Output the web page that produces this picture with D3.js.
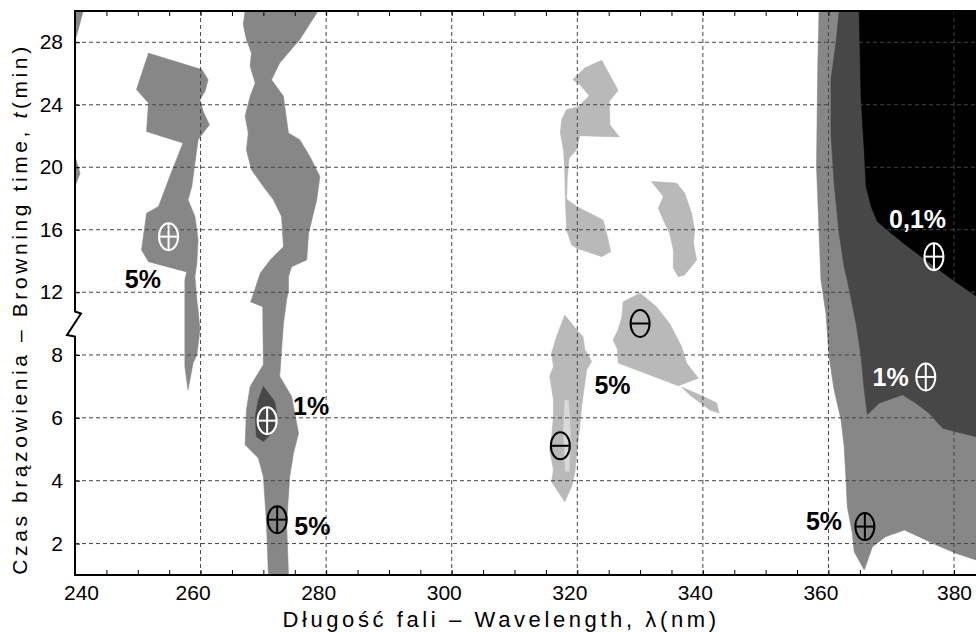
<!DOCTYPE html>
<html>
<head>
<meta charset="utf-8">
<script src="https://cdn.jsdelivr.net/npm/d3@7"></script>
<style>
  body { margin: 0; background: #fff; }
  svg { display: block; }
</style>
</head>
<body>
<svg id="chart" width="976" height="632"></svg>
<script>
// ---- axis values ----
const wavelengthTicks = [240, 260, 280, 300, 320, 340, 360, 380];
const wavelengthMinorStep = 5;
const timeTicks = [2, 4, 6, 8, 12, 16, 20, 24, 28];

// ---- significance regions: [wavelength (nm), browning time (min)] ----
// positive correlation, p < 5 %
const posEdgeTop = [[240, 30], [241.3, 30], [240.3, 28.5], [240, 28.2]];
const posEdgeMid = [[240, 20.7], [240.8, 19.6], [240, 18.8]];
const pos255 = [
  [251.7, 27.3], [260.2, 26.25], [261.2, 25.6], [260.7, 24.86], [259.9, 24.33], [260.4, 23.58],
  [261.4, 22.72], [260.4, 22.19], [259.6, 21.76], [258.6, 18.77], [258.0, 17.92], [259.1, 16.85],
  [259.6, 15.35], [259.4, 13.86], [259.1, 13.0], [259.4, 11.5], [259.6, 10.87], [259.9, 8.8],
  [259.4, 8.0], [258.8, 7.74], [258.0, 6.89], [257.5, 7.63], [257.5, 8.48], [257.5, 12.15],
  [257.5, 12.8], [257.8, 13.3], [251.7, 13.96], [250.6, 14.71], [251.4, 17.06], [253.3, 17.49],
  [255.1, 19.41], [257.2, 21.55], [251.4, 22.29], [251.7, 24.12], [249.8, 24.97]
];
const pos270 = [
  [267.1, 30], [266.8, 29.13], [267.3, 28.17], [268.1, 27.32], [267.9, 26.46], [268.7, 25.4],
  [267.9, 24.54], [267.1, 23.26], [267.6, 22.19], [267.3, 21.12], [268.1, 19.84], [270.0, 18.77],
  [271.6, 17.92], [272.9, 16.85], [273.2, 14.92], [271.1, 14.07], [269.5, 13.22], [268.1, 11.5],
  [267.9, 11.4], [269.9, 11.08], [270.0, 7.69], [267.9, 7.0], [267.3, 6.25], [267.1, 5.14],
  [269.2, 4.72], [270.0, 4.13], [270.5, 2.65], [270.8, 1], [274.0, 1], [273.7, 2.65],
  [274.2, 4.13], [274.8, 4.88], [275.6, 5.51], [274.5, 6.68], [272.6, 7.32], [273.2, 9.5],
  [273.7, 11.5], [274.0, 12.15], [274.0, 13.0], [274.5, 13.64], [276.9, 14.07], [277.2, 15.78],
  [278.5, 17.92], [279.0, 19.41], [277.4, 20.69], [275.8, 21.76], [274.0, 22.19], [273.4, 23.9],
  [273.2, 24.54], [271.3, 25.6], [272.6, 26.68], [275.8, 28.17], [278.7, 30]
];
const pos365 = [
  [358.5, 30], [358.3, 26.46], [358.1, 20.05], [358.8, 12.79], [359.6, 10.65], [360.1, 7.95],
  [360.9, 6.89], [362.0, 5.94], [362.5, 5.09], [362.8, 4.03], [363.0, 3.18], [363.8, 2.33],
  [364.1, 1.74], [365.7, 1.16], [367.0, 1.9], [369.1, 2.22], [372.1, 2.43], [374.4, 2.22],
  [377.1, 1.96], [380.3, 1.69], [383.5, 1.48], [383.5, 30]
];
// positive correlation, p < 1 %
const pos270Core = [
  [270.0, 7.0], [271.8, 6.52], [272.2, 6.04], [271.6, 5.56], [270.0, 5.25], [268.9, 5.4],
  [268.7, 6.04], [269.2, 6.57]
];
const pos370 = [
  [361.7, 30], [361.2, 27.96], [360.4, 25.61], [360.4, 22.19], [360.9, 18.99], [361.7, 15.78],
  [362.5, 13.64], [363.0, 12.79], [364.4, 9.5], [365.2, 7.95], [365.7, 6.89], [366.2, 6.1],
  [368.1, 6.47], [371.8, 6.73], [373.9, 6.47], [376.0, 6.15], [378.2, 5.67], [380.3, 5.56],
  [383.5, 5.4], [383.5, 30]
];
// positive correlation, p < 0.1 %
const pos375 = [
  [364.9, 30], [365.2, 24.33], [365.7, 21.12], [366.0, 18.77], [366.8, 17.49], [367.8, 16.53],
  [369.7, 15.88], [372.3, 15.03], [375.5, 14.07], [379.8, 12.79], [383.5, 11.76], [383.5, 30]
];
// negative correlation, p < 5 %
const neg320Upper = [
  [323.9, 26.85], [326.5, 24.92], [325.1, 24.22], [325.2, 22.72], [326.7, 21.94], [320.4, 22.02],
  [319.9, 21.12], [318.7, 20.59], [318.4, 19.41], [318.3, 17.96], [319.9, 17.49], [324.1, 16.63],
  [324.8, 15.56], [325.3, 14.6], [323.9, 14.28], [319.9, 14.82], [319.1, 15.03], [318.3, 15.99],
  [318.1, 17.92], [318.0, 19.84], [317.8, 21.12], [317.3, 22.19], [317.5, 23.04], [318.3, 23.69],
  [320.1, 23.86], [321.9, 24.58], [320.4, 25.29], [319.3, 25.61], [321.2, 26.36]
];
const neg336 = [
  [331.8, 19.09], [335.8, 18.99], [337.1, 18.35], [338.2, 17.06], [338.7, 15.99], [338.5, 15.14],
  [339.0, 14.07], [337.1, 13.11], [336.1, 13.0], [335.3, 13.54], [335.3, 14.71], [334.7, 15.78],
  [333.7, 16.63], [332.9, 17.38], [333.7, 18.13]
];
const neg330 = [
  [330.0, 11.94], [332.6, 11.08], [334.7, 9.5], [336.6, 8.27], [337.4, 7.74], [339.3, 7.26],
  [336.1, 7.02], [326.5, 7.74], [326.4, 8.17], [325.7, 8.48], [326.5, 8.8], [327.1, 10.44],
  [327.3, 11.4]
];
const neg340Tail = [
  [336.6, 6.98], [340.6, 6.63], [342.2, 6.47], [342.6, 6.15], [341.1, 6.25], [337.9, 6.73]
];
const neg318 = [
  [318.0, 10.54], [319.9, 8.8], [320.9, 8.59], [321.2, 8.17], [322.3, 7.79], [321.5, 7.53],
  [321.2, 7.11], [320.9, 6.68], [320.7, 6.36], [320.4, 5.72], [320.1, 5.19], [319.8, 4.66],
  [319.6, 4.24], [319.1, 3.81], [318.0, 3.33], [315.9, 3.97], [316.2, 4.34], [315.6, 4.98],
  [315.9, 5.4], [316.2, 6.04], [316.2, 6.57], [315.6, 7.32], [316.2, 7.63], [315.9, 8.06],
  [316.7, 8.59]
];
const neg318Core = [
  [318.0, 6.55], [318.6, 6.55], [318.9, 5.5], [318.7, 4.3], [318.1, 4.3], [317.8, 5.5]
];

// correlation sign markers and level labels
const markers = [
  { nm: 254.9, t: 15.56, sign: "+", ink: "#fff" },
  { nm: 270.6, t: 5.91, sign: "+", ink: "#fff" },
  { nm: 272.2, t: 2.76, sign: "+", ink: "#000" },
  { nm: 330.0, t: 9.5, sign: "-", ink: "#000" },
  { nm: 317.3, t: 5.11, sign: "-", ink: "#000" },
  { nm: 365.8, t: 2.54, sign: "+", ink: "#000" },
  { nm: 375.5, t: 7.3, sign: "+", ink: "#fff" },
  { nm: 376.8, t: 14.28, sign: "+", ink: "#fff" }
];
const levelLabels = [
  { text: "5%", nm: 250.8, t: 12.87, ink: "#000" },
  { text: "1%", nm: 277.6, t: 6.36, ink: "#000" },
  { text: "5%", nm: 277.8, t: 2.57, ink: "#000" },
  { text: "5%", nm: 325.6, t: 7.05, ink: "#000" },
  { text: "5%", nm: 359.3, t: 2.72, ink: "#000" },
  { text: "1%", nm: 369.9, t: 7.3, ink: "#fff" },
  { text: "0,1%", nm: 374.2, t: 16.7, ink: "#fff" }
];

// ---- styling ----
const fills = { neg5: "#b9b9b9", negCore: "#d9d9d9", pos5: "#878787", pos1: "#474747", pos01: "#000" };
const layers = [
  [posEdgeTop, "pos5"], [posEdgeMid, "pos5"], [pos255, "pos5"], [pos270, "pos5"], [pos270Core, "pos1"],
  [neg320Upper, "neg5"], [neg336, "neg5"], [neg330, "neg5"], [neg340Tail, "neg5"], [neg318, "neg5"],
  [neg318Core, "negCore"], [pos365, "pos5"], [pos370, "pos1"], [pos375, "pos01"]
];
const FONT = "'Liberation Sans', Arial, sans-serif";

// ---- scales ----
const x = d3.scaleLinear().domain([240, 383.5]).range([75, 976]);
// broken time axis: 1–9 min on the lower part, 10–30 min compressed above
const y = d3.scaleLinear().domain([1, 9, 10, 30]).range([575, 323.5, 323.5, 11]);

const svg = d3.select("#chart");
const [x0, x1] = x.range();
const yTop = y(30), yBottom = y(1);

svg.append("defs").append("clipPath").attr("id", "plot-clip")
  .append("rect").attr("x", x0).attr("y", yTop).attr("width", x1 - x0).attr("height", yBottom - yTop);

const plot = svg.append("g").attr("clip-path", "url(#plot-clip)");

// contour regions
const line = d3.line().x(d => x(d[0])).y(d => y(d[1]));
plot.selectAll("path.region").data(layers).join("path")
  .attr("class", "region")
  .attr("d", d => line(d[0]) + "Z")
  .attr("fill", d => fills[d[1]])
  .attr("stroke", d => fills[d[1]])
  .attr("stroke-width", 0.6);

// dashed grid
const gridStyle = g => g.attr("stroke", "#444").attr("stroke-width", 1).attr("stroke-dasharray", "4,3");
plot.append("g").call(gridStyle).selectAll("line")
  .data(wavelengthTicks.filter(v => v > 240)).join("line")
  .attr("x1", d => x(d)).attr("x2", d => x(d)).attr("y1", yTop).attr("y2", yBottom);
plot.append("g").call(gridStyle).selectAll("line")
  .data(timeTicks).join("line")
  .attr("x1", x0).attr("x2", x1).attr("y1", d => y(d)).attr("y2", d => y(d));

// sign markers (⊕ / ⊖)
const mk = plot.selectAll("g.marker").data(markers).join("g")
  .attr("class", "marker")
  .attr("transform", d => `translate(${x(d.nm)},${y(d.t)})`)
  .attr("stroke", d => d.ink).attr("stroke-width", 2).attr("fill", "none");
const rx = 9.5, ry = 13.5;
mk.append("ellipse").attr("rx", rx).attr("ry", ry);
mk.append("line").attr("x1", -rx).attr("x2", rx).attr("y1", 0).attr("y2", 0);
mk.filter(d => d.sign === "+").append("line").attr("x1", 0).attr("x2", 0).attr("y1", -ry).attr("y2", ry);

// significance level labels
plot.selectAll("text.level").data(levelLabels).join("text")
  .attr("class", "level")
  .attr("x", d => x(d.nm)).attr("y", d => y(d.t))
  .attr("dy", "0.36em")
  .attr("text-anchor", "middle")
  .attr("font-family", FONT).attr("font-weight", "bold").attr("font-size", 25)
  .attr("fill", d => d.ink)
  .text(d => d.text);

// ---- axes ----
const styleAxis = g => {
  g.select(".domain").remove();
  g.selectAll(".tick line").attr("stroke", "#000").attr("stroke-width", 1);
  g.selectAll("text").attr("font-family", FONT).attr("font-size", 21).attr("fill", "#000");
};
const minorWl = d3.range(240, 383.5, wavelengthMinorStep);
const edgeShift = v => v === wavelengthTicks[0] ? 6 : (v === wavelengthTicks[wavelengthTicks.length - 1] ? 0 : -8);

svg.append("g").attr("transform", `translate(0,${yBottom})`)
  .call(d3.axisBottom(x).tickValues(minorWl).tickSize(-5).tickPadding(10)
    .tickFormat(d => wavelengthTicks.includes(d) ? d : ""))
  .call(styleAxis)
  .call(g => g.selectAll("text").attr("dx", d => edgeShift(d)));

svg.append("g").attr("transform", `translate(0,${yTop})`)
  .call(d3.axisTop(x).tickValues(minorWl).tickSize(-5).tickFormat(""))
  .call(styleAxis);

svg.append("g").attr("transform", `translate(${x0},0)`)
  .call(d3.axisLeft(y).tickValues(timeTicks).tickSize(-5).tickPadding(12))
  .call(styleAxis);

// frame with the axis break mark
const yb = y(9);
svg.append("path")
  .attr("d", `M${x0},${yTop}V${yb - 12}L${x0 + 6},${yb - 10}L${x0 - 8},${yb + 11.5}L${x0},${yb + 13}V${yBottom}`)
  .attr("fill", "none").attr("stroke", "#000").attr("stroke-width", 2);
svg.append("line").attr("x1", x0 - 1).attr("x2", x1).attr("y1", yTop).attr("y2", yTop)
  .attr("stroke", "#000").attr("stroke-width", 2);
svg.append("line").attr("x1", x0 - 1).attr("x2", x1).attr("y1", yBottom).attr("y2", yBottom)
  .attr("stroke", "#000").attr("stroke-width", 2);

// axis titles
svg.append("text")
  .attr("x", 501).attr("y", 627)
  .attr("text-anchor", "middle")
  .attr("font-family", FONT).attr("font-size", 22).attr("letter-spacing", 3.6)
  .text("Długość fali – Wavelength, λ(nm)");

const yTitle = svg.append("text")
  .attr("transform", "translate(27,309) rotate(-90)")
  .attr("text-anchor", "middle")
  .attr("font-family", FONT).attr("font-size", 21).attr("letter-spacing", 3.6);
yTitle.append("tspan").text("Czas brązowienia – Browning time, ");
yTitle.append("tspan").attr("font-style", "italic").text("t");
yTitle.append("tspan").text("(min)");
</script>
</body>
</html>
